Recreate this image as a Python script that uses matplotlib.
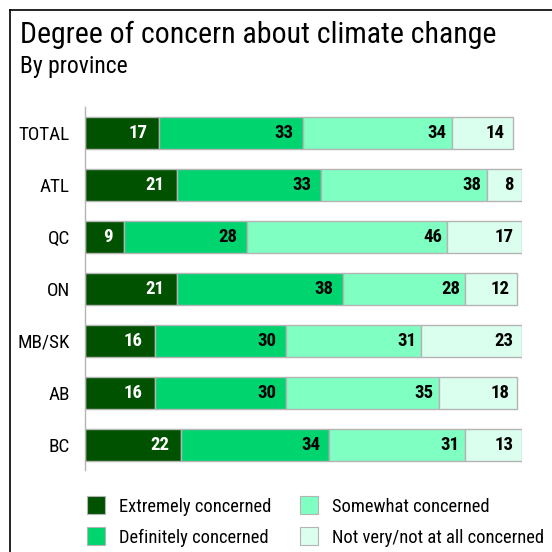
import numpy as np
import matplotlib
matplotlib.use("Agg")
import matplotlib.pyplot as plt
from matplotlib.lines import Line2D
from matplotlib.patches import Rectangle

provinces = ["TOTAL", "ATL", "QC", "ON", "MB/SK", "AB", "BC"]
extremely = [17, 21, 9, 21, 16, 16, 22]
definitely = [33, 33, 28, 38, 30, 30, 34]
somewhat = [34, 38, 46, 28, 31, 35, 31]
not_very = [14, 8, 17, 12, 23, 18, 13]

labels = ["Extremely concerned", "Definitely concerned",
          "Somewhat concerned", "Not very/not at all concerned"]
colors = ["#005200", "#00D46E", "#80FFC2", "#DBFFEE"]
text_colors = ["white", "black", "black", "black"]
label_pad = [12, 9.5, 5, 8]  # px gap between value text and segment end

plt.rcParams["font.family"] = ["Roboto Condensed", "DejaVu Sans"]

W = H = 552
fig = plt.figure(figsize=(W / 100, H / 100), dpi=100)

def fx(px):
    return px / W

def fy(py):
    return 1 - py / H

# frame lines on the left and top
fig.add_artist(Line2D([fx(10), fx(10)], [0, fy(10)], color="black", lw=1.2))
fig.add_artist(Line2D([fx(10), 1], [fy(10), fy(10)], color="black", lw=1.2))

fig.text(fx(20), fy(43), "Degree of concern about climate change",
         fontsize=21.5, va="baseline", ha="left")
fig.text(fx(20), fy(73), "By province", fontsize=17, va="baseline", ha="left")

top, bottom = 107, 470
x0, x100 = 85, 521.5
ax = fig.add_axes([fx(x0), fy(bottom), fx(x100 - x0), (bottom - top) / H])
step = 51.9
ax.set_ylim(6 + (bottom - 444.8) / step, -(133.3 - top) / step)
ax.set_xlim(0, 100)
px_per_unit = (x100 - x0) / 100

y = np.arange(len(provinces))
left = np.zeros(len(provinces))
for vals, color, tcolor, pad in zip([extremely, definitely, somewhat, not_very],
                                    colors, text_colors, label_pad):
    vals = np.array(vals)
    ax.barh(y, vals, left=left, height=0.62, color=color,
            edgecolor="#b4b4b4", linewidth=1.0)
    for yi, l, v in zip(y, left, vals):
        ax.text(l + v - pad / px_per_unit, yi, str(v), ha="right", va="center",
                color=tcolor, fontsize=13.5, fontweight="bold")
    left += vals

ax.set_yticks(y)
ax.set_yticklabels(provinces, fontsize=13.8)
ax.tick_params(axis="y", length=0, pad=10.8)
ax.set_xticks([])
for s in ["top", "right", "bottom"]:
    ax.spines[s].set_visible(False)
ax.spines["left"].set_color("#b4b4b4")
ax.spines["left"].set_linewidth(1.0)

# legend: two columns, two rows
sq = 18
cols = [87, 300]
rows = [505, 536]
for i, (lab, c) in enumerate(zip(labels, colors)):
    cx = cols[i // 2]
    cy = rows[i % 2]
    fig.add_artist(Rectangle((fx(cx), fy(cy + sq / 2)), sq / W, sq / H,
                             facecolor=c, edgecolor="#b4b4b4", lw=0.8,
                             transform=fig.transFigure))
    fig.text(fx(cx + sq + 14), fy(cy), lab, fontsize=13.3, va="center_baseline",
             ha="left")

fig.savefig("out.png", dpi=100)
